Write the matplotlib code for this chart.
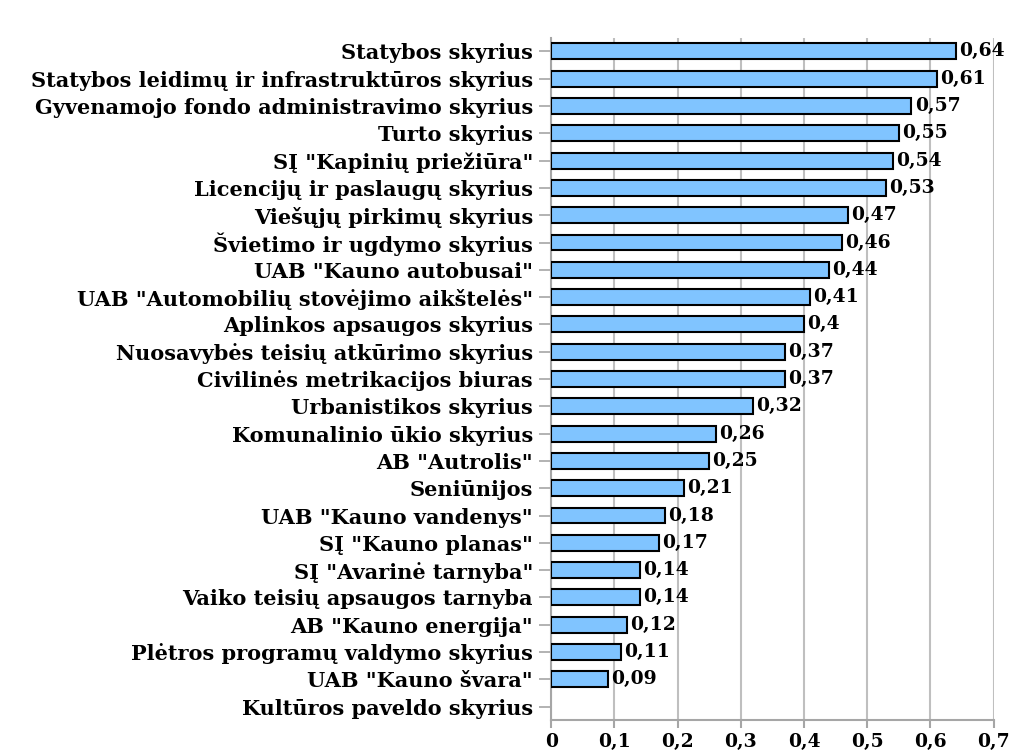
import matplotlib.pyplot as plt
import numpy as np

categories = [
    "Statybos skyrius",
    "Statybos leidimų ir infrastruktūros skyrius",
    "Gyvenamojo fondo administravimo skyrius",
    "Turto skyrius",
    "SĮ \"Kapinių priežiūra\"",
    "Licencijų ir paslaugų skyrius",
    "Viešųjų pirkimų skyrius",
    "Švietimo ir ugdymo skyrius",
    "UAB \"Kauno autobusai\"",
    "UAB \"Automobilių stovėjimo aikštelės\"",
    "Aplinkos apsaugos skyrius",
    "Nuosavybės teisių atkūrimo skyrius",
    "Civilinės metrikacijos biuras",
    "Urbanistikos skyrius",
    "Komunalinio ūkio skyrius",
    "AB \"Autrolis\"",
    "Seniūnijos",
    "UAB \"Kauno vandenys\"",
    "SĮ \"Kauno planas\"",
    "SĮ \"Avarinė tarnyba\"",
    "Vaiko teisių apsaugos tarnyba",
    "AB \"Kauno energija\"",
    "Plėtros programų valdymo skyrius",
    "UAB \"Kauno švara\"",
    "Kultūros paveldo skyrius",
]
values = [0.64, 0.61, 0.57, 0.55, 0.54, 0.53, 0.47, 0.46, 0.44, 0.41, 0.4,
          0.37, 0.37, 0.32, 0.26, 0.25, 0.21, 0.18, 0.17, 0.14, 0.14, 0.12,
          0.11, 0.09, None]
xticks = [0, 0.1, 0.2, 0.3, 0.4, 0.5, 0.6, 0.7]


def fmt(v):
    return f"{v:g}".replace(".", ",")


def main():
    plt.rcParams["font.family"] = ["DejaVu Serif"]
    plt.rcParams["font.weight"] = "bold"
    fs = 13.5

    fig = plt.figure(figsize=(10.15, 7.55), dpi=100)
    ax = fig.add_axes([0.543, 0.046, 0.436, 0.904])

    n = len(categories)
    y = np.arange(n)[::-1]
    for yi, v in zip(y, values):
        if v is None:
            continue
        ax.barh(yi, v, height=0.58, color="#80C4FF", edgecolor="black",
                linewidth=1.5, zorder=3)
        ax.text(v + 0.005, yi, fmt(v), va="center", ha="left",
                fontsize=fs, fontweight="bold", zorder=4)

    ax.set_xlim(0, 0.7)
    ax.set_ylim(-0.5, n - 0.5)
    ax.set_yticks(y)
    ax.set_yticklabels(categories, fontsize=15, fontweight="bold")
    ax.set_xticks(xticks)
    ax.set_xticklabels([fmt(t) for t in xticks], fontsize=fs,
                       fontweight="bold")

    ax.grid(axis="x", color="#BFBFBF", linewidth=1.5, zorder=0)
    for s in ["top", "right"]:
        ax.spines[s].set_visible(False)
    for s in ["left", "bottom"]:
        ax.spines[s].set_color("#A6A6A6")
        ax.spines[s].set_linewidth(1.5)
    ax.tick_params(axis="y", length=9, color="#A6A6A6", width=1.2, pad=4)
    ax.tick_params(axis="x", length=6, color="#A6A6A6", width=1.5, pad=3)

    fig.savefig("out.png", dpi=100)


if __name__ == "__main__":
    main()
